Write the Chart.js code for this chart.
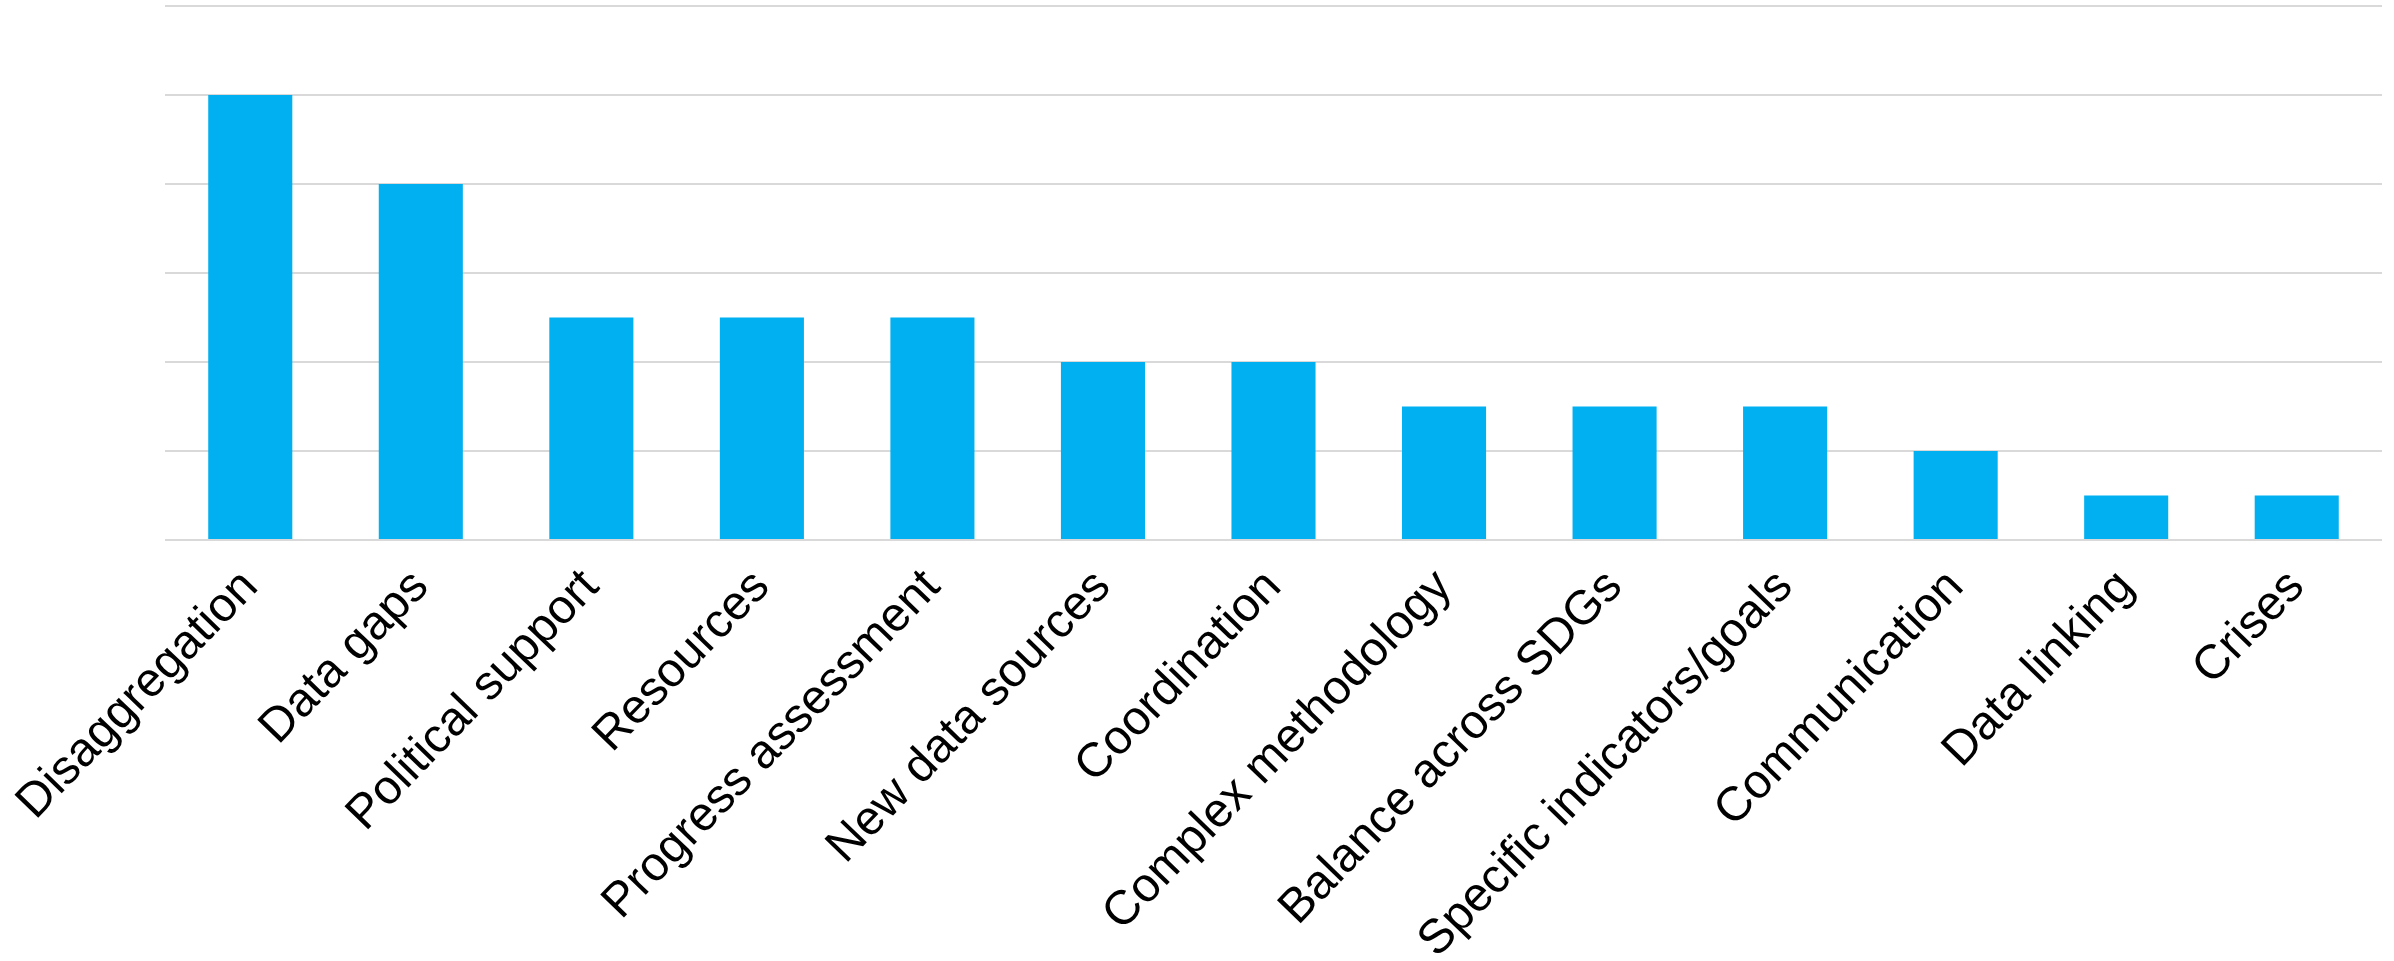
<!DOCTYPE html>
<html>
<head>
<meta charset="utf-8">
<script src="https://cdn.jsdelivr.net/npm/chart.js@4"></script>
<style>
html,body{margin:0;padding:0;background:#ffffff;}
#wrap{width:2394px;height:961px;position:relative;}
</style>
</head>
<body>
<div id="wrap"><canvas id="c"></canvas></div>
<script>
const categories = ["Disaggregation","Data gaps","Political support","Resources","Progress assessment","New data sources","Coordination","Complex methodology","Balance across SDGs","Specific indicators/goals","Communication","Data linking","Crises"];
const counts = [10, 8, 5, 5, 5, 4, 4, 3, 3, 3, 2, 1, 1];
const yMax = 12;
const yStep = 2;

const ctx = document.getElementById('c');
new Chart(ctx, {
  type: 'bar',
  data: {
    labels: categories,
    datasets: [{
      data: counts,
      backgroundColor: '#00B0F0',
      borderWidth: 0,
      barPercentage: 0.493,
      categoryPercentage: 1.0
    }]
  },
  options: {
    responsive: true,
    maintainAspectRatio: false,
    animation: false,
    devicePixelRatio: 1,
    layout: { padding: { left: 165, right: 12, top: 6, bottom: 0 } },
    plugins: { legend: { display: false }, tooltip: { enabled: false } },
    scales: {
      x: {
        offset: true,
        grid: { display: false, drawTicks: false },
        border: { display: false },
        ticks: {
          color: '#000000',
          font: { family: "'Liberation Sans', Arial, sans-serif", size: 48 },
          minRotation: 46,
          maxRotation: 46,
          autoSkip: false,
          padding: 19
        },
        afterFit: function(scale) {
          scale.height = 961 - 540;
          scale.paddingLeft = 0;
          scale.paddingRight = 0;
        }
      },
      y: {
        min: 0,
        max: yMax,
        ticks: { display: false, stepSize: yStep },
        grid: { color: '#d9d9d9', lineWidth: 2, drawTicks: false },
        border: { display: false },
        afterFit: function(scale) { scale.width = 0; }
      }
    }
  }
});
</script>
</body>
</html>
